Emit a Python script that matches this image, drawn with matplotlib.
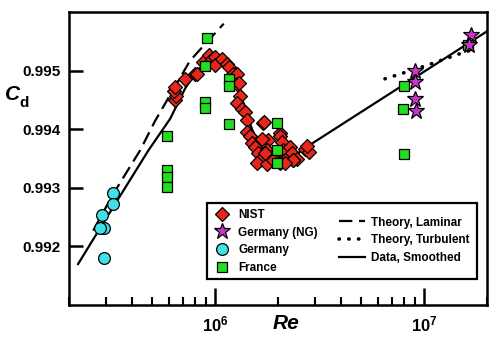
import matplotlib
matplotlib.use('Agg')
import matplotlib.pyplot as plt
from matplotlib.lines import Line2D
from matplotlib.patches import Rectangle
from matplotlib.ticker import LogLocator, NullFormatter, FixedLocator

plt.rcParams['font.family'] = ['Liberation Sans', 'DejaVu Sans']
plt.rcParams['mathtext.fontset'] = 'custom'
plt.rcParams['mathtext.rm'] = 'Liberation Sans'
plt.rcParams['mathtext.bf'] = 'Liberation Sans:bold'
plt.rcParams['mathtext.it'] = 'Liberation Sans:italic'

# NIST (red diamonds)
nist_re = [6.44e5, 6.5e5, 6.35e5, 6.45e5, 7.18e5, 8.0e5, 8.17e5, 8.77e5, 9.4e5, 9.64e5,
           1.0e6, 1.0e6, 1.077e6, 1.14e6, 1.17e6, 1.22e6, 1.27e6, 1.27e6, 1.30e6, 1.32e6,
           1.27e6, 1.34e6, 1.39e6, 1.42e6, 1.42e6, 1.47e6, 1.50e6, 1.55e6, 1.60e6, 1.70e6,
           1.72e6, 1.80e6, 1.68e6, 1.77e6, 1.87e6, 2.05e6, 2.05e6, 2.09e6, 2.12e6, 2.29e6,
           2.33e6, 2.46e6, 2.17e6, 1.64e6, 1.58e6, 1.77e6, 2.05e6, 2.70e6, 2.80e6, 2.35e6,
           1.9e6, 1.73e6, 2.36e6, 2.16e6, 2.75e6]
nist_cd = [0.99449, 0.99457, 0.99466, 0.99472, 0.99486, 0.99494, 0.99494, 0.99514, 0.99526, 0.99520,
           0.99524, 0.99509, 0.99519, 0.99512, 0.99506, 0.99495, 0.99495, 0.99477, 0.99478, 0.99457,
           0.99444, 0.99435, 0.99429, 0.99415, 0.99395, 0.99389, 0.99377, 0.99369, 0.99359, 0.99410,
           0.99412, 0.99381, 0.99384, 0.99364, 0.99355, 0.99393, 0.99389, 0.99378, 0.99364, 0.99369,
           0.99360, 0.99350, 0.99347, 0.99347, 0.99342, 0.99340, 0.99342, 0.99367, 0.99361, 0.99347,
           0.99347, 0.99359, 0.99347, 0.99342, 0.99372]

# Germany (NG) (purple stars)
gng_re = [9.06e6, 9.0e6, 9.0e6, 9.1e6, 1.67e7, 1.64e7]
gng_cd = [0.99500, 0.99480, 0.99451, 0.99431, 0.99561, 0.99543]

# Germany (cyan circles)
ger_re = [3.25e5, 3.25e5, 2.88e5, 2.94e5, 2.82e5, 2.94e5]
ger_cd = [0.99291, 0.99272, 0.99253, 0.99231, 0.99231, 0.99180]

# France (green squares)
fra_re = [9.16e5, 8.96e5, 8.96e5, 8.96e5, 1.17e6, 1.17e6, 1.17e6, 5.87e5, 5.9e5, 5.9e5, 5.87e5,
          1.98e6, 1.98e6, 1.98e6, 8.02e6, 7.9e6, 8.0e6, 1.63e7]
fra_cd = [0.99556, 0.99507, 0.99447, 0.99437, 0.99485, 0.99474, 0.99409, 0.99389, 0.99330, 0.99319, 0.99301,
          0.99410, 0.99365, 0.99342, 0.99474, 0.99434, 0.99357, 0.99544]

# Theory, Laminar
lam_re = [2.61e5, 3.26e5, 4.38e5, 5.16e5, 7.59e5, 1.1e6]
lam_cd = [0.99227, 0.99290, 0.99364, 0.99414, 0.99517, 0.99580]

# Theory, Turbulent
tur_re = [6.5e6, 9.0e6, 1.07e7, 1.49e7, 1.75e7]
tur_cd = [0.99486, 0.99502, 0.99511, 0.99529, 0.99537]

# Data, Smoothed
smo_re = [2.21e5, 3.0e5, 4.8e5, 6.1e5, 7.2e5, 8.2e5, 9.2e5, 1.0e6, 1.08e6, 1.15e6, 1.25e6,
          1.33e6, 1.42e6, 1.52e6, 1.65e6, 1.8e6, 2.0e6, 2.3e6, 2.75e6, 2.0e7]
smo_cd = [0.99170, 0.99247, 0.99364, 0.99418, 0.99470, 0.99500, 0.99516, 0.99520, 0.99516, 0.99506, 0.99484,
          0.99458, 0.99425, 0.99395, 0.99368, 0.99352, 0.99345, 0.99350, 0.99370, 0.99567]

fig = plt.figure(figsize=(5, 3.42), dpi=100)
ax = fig.add_axes([0.138, 0.108, 0.836, 0.857])

dash = (0, (6, 3))
dots = (0, (0.1, 2.6))

ax.plot(lam_re, lam_cd, color='black', lw=1.6, linestyle=dash)
ax.plot(tur_re, tur_cd, color='black', lw=2.6, linestyle=dots, dash_capstyle='round')
ax.plot(smo_re, smo_cd, color='black', lw=1.6)

ax.plot(nist_re, nist_cd, 'D', ms=7, mfc='#e8261c', mec='black', mew=0.9, ls='none')
ax.plot(fra_re, fra_cd, 's', ms=7, mfc='#22dd22', mec='black', mew=0.9, ls='none')
ax.plot(ger_re, ger_cd, 'o', ms=8.5, mfc='#3fe0e6', mec='black', mew=0.9, ls='none')
ax.plot(gng_re, gng_cd, '*', ms=12, mfc='#cc33cc', mec='black', mew=0.9, ls='none')

ax.set_xscale('log')
ax.set_xlim(2e5, 2e7)
ax.set_ylim(0.991, 0.996)

ax.xaxis.set_major_locator(FixedLocator([1e6, 1e7]))
ax.xaxis.set_minor_locator(LogLocator(base=10, subs=range(2, 10)))
ax.xaxis.set_minor_formatter(NullFormatter())
ax.set_xticklabels([r'$\mathbf{10^{6}}$', r'$\mathbf{10^{7}}$'])
ax.set_yticks([0.992, 0.993, 0.994, 0.995])
ax.set_yticklabels(['0.992', '0.993', '0.994', '0.995'], fontweight='bold')

ax.tick_params(axis='x', which='major', direction='in', length=12, width=1.8, labelsize=12, pad=7)
ax.tick_params(axis='x', which='minor', direction='in', length=6, width=1.5)
ax.tick_params(axis='y', which='major', direction='in', length=10, width=1.8, labelsize=11, pad=6)
for s in ax.spines.values():
    s.set_linewidth(1.8)

ax.set_xlabel('Re', fontsize=15, fontweight='bold', style='italic')
ax.xaxis.set_label_coords(0.52, -0.03)
fig.text(0.01, 0.708, 'C', fontsize=15, fontweight='bold', style='italic')
fig.text(0.039, 0.688, 'd', fontsize=11, fontweight='bold')

# legend box
ax.add_patch(Rectangle((0.330, 0.089), 0.646, 0.259, transform=ax.transAxes,
                       fill=True, facecolor='white', edgecolor='black', lw=1.6, zorder=5))
h1 = [Line2D([], [], marker='D', ms=7, mfc='#e8261c', mec='black', mew=0.9, ls='none'),
      Line2D([], [], marker='*', ms=12, mfc='#cc33cc', mec='black', mew=0.9, ls='none'),
      Line2D([], [], marker='o', ms=8.5, mfc='#3fe0e6', mec='black', mew=0.9, ls='none'),
      Line2D([], [], marker='s', ms=7, mfc='#22dd22', mec='black', mew=0.9, ls='none')]
l1 = ax.legend(h1, ['NIST', 'Germany (NG)', 'Germany', 'France'], loc='upper left',
               bbox_to_anchor=(0.34, 0.345), frameon=False, prop={'weight': 'bold', 'size': 8.5},
               handlelength=1.0, handletextpad=0.9, labelspacing=0.5, borderaxespad=0)
l1.set_zorder(6)
ax.add_artist(l1)
h2 = [Line2D([], [], color='black', lw=1.6, linestyle=dash),
      Line2D([], [], color='black', lw=2.6, linestyle=dots, dash_capstyle='round'),
      Line2D([], [], color='black', lw=1.6)]
l2 = ax.legend(h2, ['Theory, Laminar', 'Theory, Turbulent', 'Data, Smoothed'], loc='upper left',
               bbox_to_anchor=(0.635, 0.318), frameon=False, prop={'weight': 'bold', 'size': 8.5},
               handlelength=2.2, handletextpad=0.5, labelspacing=0.5, borderaxespad=0)
l2.set_zorder(6)

fig.savefig('out.png', dpi=100)
